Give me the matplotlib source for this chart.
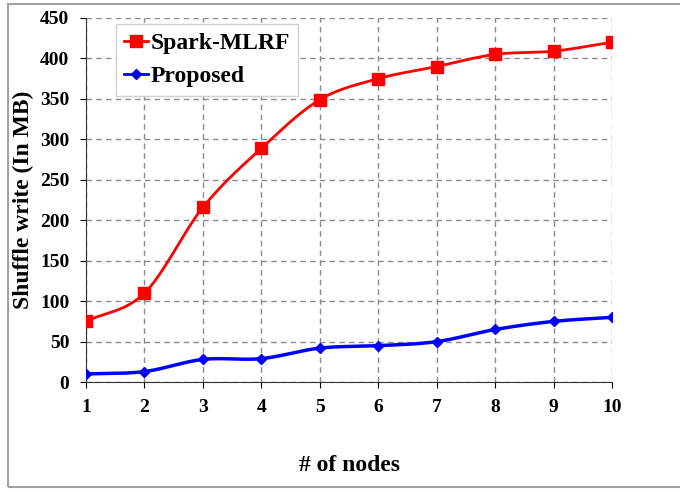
import numpy as np
import matplotlib.pyplot as plt
from matplotlib.patches import Rectangle

nodes = [1, 2, 3, 4, 5, 6, 7, 8, 9, 10]
spark_mlrf = [75, 110, 216, 289, 349, 375, 390, 405, 409, 420]
proposed = [10, 13, 28, 29, 42, 45, 50, 65, 75, 80]


def smooth(x, y, n=20):
    # Catmull-Rom style curve through the points, like excel smoothed lines
    x = np.asarray(x, float)
    y = np.asarray(y, float)
    px = np.concatenate([[2 * x[0] - x[1]], x, [2 * x[-1] - x[-2]]])
    py = np.concatenate([[2 * y[0] - y[1]], y, [2 * y[-1] - y[-2]]])
    xs, ys = [], []
    t = np.linspace(0, 1, n)
    for i in range(1, len(px) - 2):
        for p, out in ((px, xs), (py, ys)):
            p0, p1, p2, p3 = p[i - 1], p[i], p[i + 1], p[i + 2]
            out.extend(0.5 * ((2 * p1) + (-p0 + p2) * t
                              + (2 * p0 - 5 * p1 + 4 * p2 - p3) * t ** 2
                              + (-p0 + 3 * p1 - 3 * p2 + p3) * t ** 3))
    return xs, ys


plt.rcParams['font.family'] = ['Liberation Serif', 'DejaVu Serif']
plt.rcParams['font.weight'] = 'bold'

fig = plt.figure(figsize=(6.8, 4.93), dpi=100)
ax = fig.add_axes([0.1265, 0.225, 0.7735, 0.7385])

fig.patches.append(Rectangle((0.012, 0.012), 1.2, 0.98, transform=fig.transFigure,
                             fill=False, edgecolor='#a0a0a0', linewidth=1.5))

sx, sy = smooth(nodes, spark_mlrf)
ax.plot(sx, sy, color='#ff0000', linewidth=2, zorder=3)
ax.plot(nodes, spark_mlrf, 's', color='#ff0000', markersize=8, zorder=4)
px_, py_ = smooth(nodes, proposed)
ax.plot(px_, py_, color='#0000ff', linewidth=2.5, zorder=3)
ax.plot(nodes, proposed, 'D', color='#0000ff', markersize=5, zorder=4)

# legend proxies
ax.plot([], [], color='#ff0000', marker='s', markersize=8, linewidth=2, label='Spark-MLRF')
ax.plot([], [], color='#0000ff', marker='D', markersize=5, linewidth=2, label='Proposed')
leg = ax.legend(loc='upper left', bbox_to_anchor=(0.035, 1.015), fancybox=False,
                prop={'size': 17, 'weight': 'bold'}, handlelength=1.0,
                handletextpad=0.1, borderpad=0.35, labelspacing=0.5, framealpha=1)
leg.get_frame().set_edgecolor('#d0d0d0')

ax.set_xlim(1, 10)
ax.set_ylim(0, 450)
ax.set_xticks(nodes)
ax.set_yticks(range(0, 451, 50))
ax.grid(True, linestyle=(0, (4, 3)), color='#8a8a8a', linewidth=1)
for s in ['top', 'right']:
    ax.spines[s].set_visible(False)
ax.spines['left'].set_color('#333333')
ax.spines['bottom'].set_color('#333333')
ax.tick_params(labelsize=14, length=4, pad=8)
ax.set_xlabel('# of nodes', fontsize=17, fontweight='bold', labelpad=28)
ax.set_ylabel('Shuffle write (In MB)', fontsize=17, fontweight='bold', labelpad=4)

fig.savefig('out.png', dpi=100)
